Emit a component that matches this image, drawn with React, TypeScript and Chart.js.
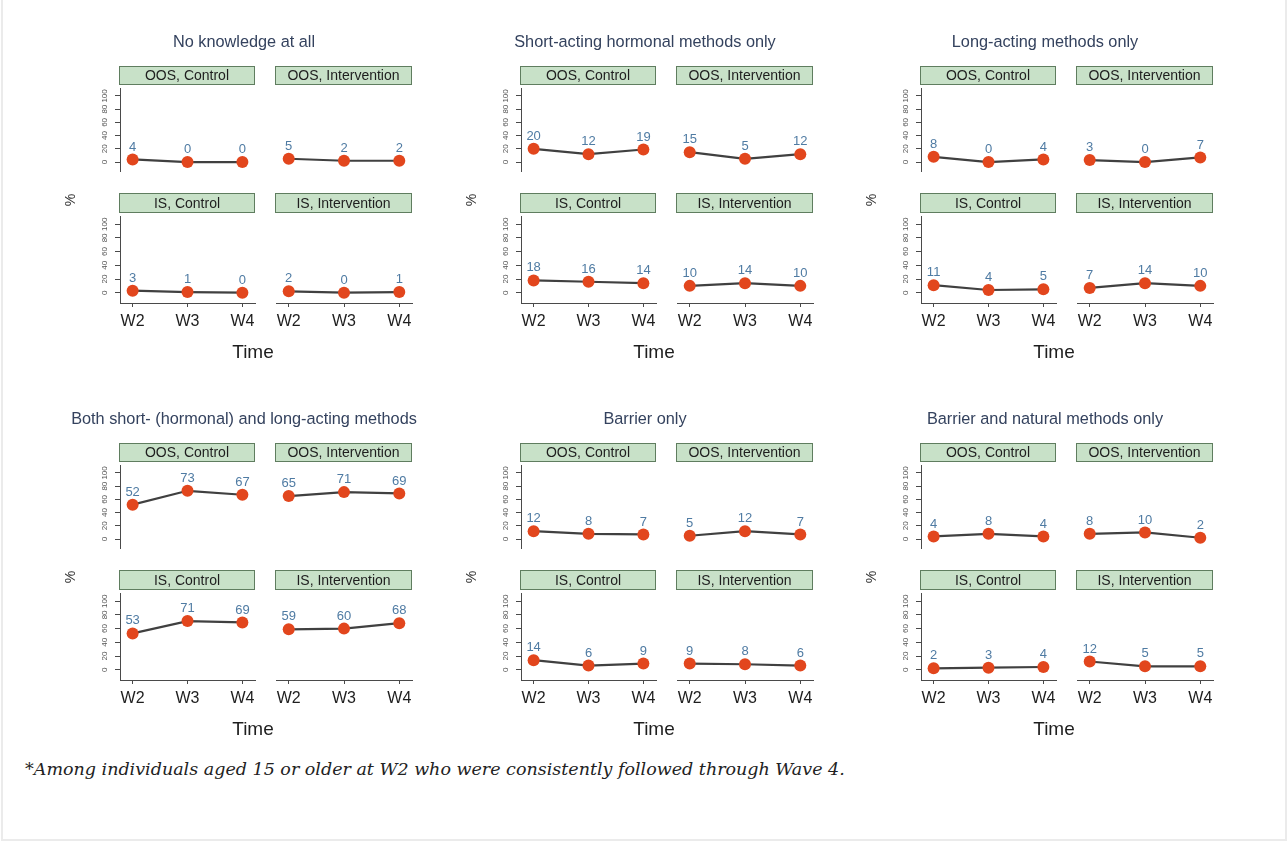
import React, { useEffect, useRef } from 'react';
import { Chart, registerables } from 'chart.js';

Chart.register(...registerables);

// ---- data -------------------------------------------------------------
const waves = ['W2', 'W3', 'W4'];
const yTickValues = [0, 20, 40, 60, 80, 100];
const facetLabels = ['OOS, Control', 'OOS, Intervention', 'IS, Control', 'IS, Intervention'];
const panelTitles = [
  'No knowledge at all',
  'Short-acting hormonal methods only',
  'Long-acting methods only',
  'Both short- (hormonal) and long-acting methods',
  'Barrier only',
  'Barrier and natural methods only',
];

// each panel: OOS Control, OOS Intervention, IS Control, IS Intervention (W2, W3, W4)
const noKnowledge = [[4, 0, 0], [5, 2, 2], [3, 1, 0], [2, 0, 1]];
const shortActing = [[20, 12, 19], [15, 5, 12], [18, 16, 14], [10, 14, 10]];
const longActing = [[8, 0, 4], [3, 0, 7], [11, 4, 5], [7, 14, 10]];
const bothMethods = [[52, 73, 67], [65, 71, 69], [53, 71, 69], [59, 60, 68]];
const barrierOnly = [[12, 8, 7], [5, 12, 7], [14, 6, 9], [9, 8, 6]];
const barrierNatural = [[4, 8, 4], [8, 10, 2], [2, 3, 4], [12, 5, 5]];

const panelValues = [noKnowledge, shortActing, longActing, bothMethods, barrierOnly, barrierNatural];

const caption = '*Among individuals aged 15 or older at W2 who were consistently followed through Wave 4.';

// ---- layout -----------------------------------------------------------
const FONT = '"Liberation Sans", Arial, Helvetica, sans-serif';
const GROUP_X = [0, 401, 801];
const GROUP_Y = [0, 377];
const PLOT_LEFT = [120, 276];
const PLOT_W = [135, 136];
const PLOT_TOP = [88, 216];
const PLOT_H = [84, 87];
const STRIP_TOP = [66, 193];
const STRIP_H = [19, 20];
const AXIS_W = 30;
const X_AXIS_H = 40;
const RIGHT_PAD = 8;

const valueLabels = {
  id: 'valueLabels',
  afterDatasetsDraw(chart: any) {
    const ctx = chart.ctx;
    const ds = chart.data.datasets[0];
    const meta = chart.getDatasetMeta(0);
    ctx.save();
    ctx.font = `13px ${FONT}`;
    ctx.fillStyle = '#4f7ba3';
    ctx.textAlign = 'center';
    ctx.textBaseline = 'middle';
    meta.data.forEach((pt: any, i: number) => {
      ctx.fillText(String(ds.data[i].y), pt.x, pt.y - 12.5);
    });
    ctx.restore();
  },
};

function Facet({ values, col, row }: { values: number[]; col: number; row: number }) {
  const ref = useRef<HTMLCanvasElement>(null);
  const showY = col === 0;
  const showX = row === 1;
  const width = AXIS_W + PLOT_W[col] + RIGHT_PAD;
  const height = PLOT_H[row] + (showX ? X_AXIS_H : 0);

  useEffect(() => {
    if (!ref.current) return;
    const chart = new Chart(ref.current, {
      type: 'line',
      data: {
        datasets: [
          {
            data: values.map((v, i) => ({ x: i, y: v })),
            borderColor: '#404040',
            borderWidth: 2.2,
            pointRadius: 6,
            pointBackgroundColor: '#e2461d',
            pointBorderColor: '#e2461d',
            pointBorderWidth: 0,
            tension: 0,
            clip: false,
          },
        ],
      },
      options: {
        responsive: false,
        maintainAspectRatio: false,
        animation: false,
        events: [],
        layout: {
          autoPadding: false,
          padding: { left: showY ? 0 : AXIS_W, right: RIGHT_PAD, top: 0, bottom: 0 },
        },
        plugins: { legend: { display: false }, tooltip: { enabled: false }, title: { display: false } },
        scales: {
          x: {
            type: 'linear',
            min: -0.23,
            max: 2.23,
            display: showX,
            afterBuildTicks: (scale: any) => {
              scale.ticks = waves.map((_, i) => ({ value: i }));
            },
            afterFit: (scale: any) => {
              scale.height = showX ? X_AXIS_H : 0;
              scale.paddingLeft = 0;
              scale.paddingRight = 0;
              scale.paddingTop = 0;
              scale.paddingBottom = 0;
            },
            grid: { display: true, drawOnChartArea: false, drawTicks: true, tickLength: 4, color: '#4a4a4a' },
            border: { display: true, color: '#4a4a4a', width: 1 },
            ticks: {
              autoSkip: false,
              maxRotation: 0,
              padding: 5,
              color: '#1e1e1e',
              font: { family: FONT, size: 16 },
              callback: (v: any) => waves[Number(v)] ?? '',
            },
          },
          y: {
            type: 'linear',
            min: -15,
            max: 112,
            display: showY,
            afterBuildTicks: (scale: any) => {
              scale.ticks = yTickValues.map((v) => ({ value: v }));
            },
            afterFit: (scale: any) => {
              scale.width = showY ? AXIS_W : 0;
              scale.paddingLeft = 0;
              scale.paddingRight = 0;
              scale.paddingTop = 0;
              scale.paddingBottom = 0;
            },
            grid: { display: true, drawOnChartArea: false, drawTicks: true, tickLength: 5, color: '#4a4a4a' },
            border: { display: true, color: '#4a4a4a', width: 1 },
            ticks: {
              autoSkip: false,
              minRotation: 90,
              maxRotation: 90,
              crossAlign: 'center',
              padding: 4,
              color: '#555',
              font: { family: FONT, size: 8 },
              callback: (v: any) => String(v),
            },
          },
        },
      },
      plugins: [valueLabels],
    } as any);
    return () => chart.destroy();
  }, [values, col, row]);

  return (
    <canvas
      ref={ref}
      width={width}
      height={height}
      style={{
        position: 'absolute',
        left: PLOT_LEFT[col] - AXIS_W,
        top: PLOT_TOP[row],
        width,
        height,
      }}
    />
  );
}

function Panel({ index }: { index: number }) {
  const gx = GROUP_X[index % 3];
  const gy = GROUP_Y[Math.floor(index / 3)];
  const values = panelValues[index];
  return (
    <div style={{ position: 'absolute', left: gx, top: gy, width: 420, height: 377, filter: 'blur(0.4px)' }}>
      <div
        style={{
          position: 'absolute',
          left: 244 - 220,
          width: 440,
          top: 32,
          textAlign: 'center',
          font: `16.3px ${FONT}`,
          color: '#34425e',
          whiteSpace: 'nowrap',
        }}
      >
        {panelTitles[index]}
      </div>
      {facetLabels.map((label, k) => {
        const col = k % 2;
        const row = Math.floor(k / 2);
        return (
          <div
            key={label}
            style={{
              position: 'absolute',
              left: PLOT_LEFT[col] - 1,
              top: STRIP_TOP[row],
              width: PLOT_W[col] + 1,
              height: STRIP_H[row],
              boxSizing: 'border-box',
              background: '#c8e1c8',
              border: '1px solid #5f7d5f',
              font: `14px ${FONT}`,
              color: '#1e1e1e',
              textAlign: 'center',
              lineHeight: `${STRIP_H[row] - 2}px`,
              whiteSpace: 'nowrap',
            }}
          >
            {label}
          </div>
        );
      })}
      {values.map((v, k) => (
        <Facet key={k} values={v} col={k % 2} row={Math.floor(k / 2)} />
      ))}
      <div
        style={{
          position: 'absolute',
          left: 72 - 20,
          top: 200 - 10,
          width: 40,
          height: 20,
          lineHeight: '20px',
          textAlign: 'center',
          transform: 'rotate(-90deg)',
          font: `14px ${FONT}`,
          color: '#333',
        }}
      >
        %
      </div>
      <div
        style={{
          position: 'absolute',
          left: 253 - 50,
          width: 100,
          top: 341,
          textAlign: 'center',
          font: `19px ${FONT}`,
          color: '#1e1e1e',
        }}
      >
        Time
      </div>
    </div>
  );
}

export default function App() {
  return (
    <div
      style={{
        position: 'absolute',
        left: 0,
        top: 0,
        width: 1287,
        height: 841,
        background: '#fff',
        overflow: 'hidden',
      }}
    >
      <div
        style={{
          position: 'absolute',
          left: 1,
          top: -4,
          width: 1286,
          height: 845,
          boxSizing: 'border-box',
          border: '2px solid #ebebeb',
        }}
      />
      {panelTitles.map((_, i) => (
        <Panel key={i} index={i} />
      ))}
      <div
        style={{
          position: 'absolute',
          left: 25,
          top: 759,
          font: `italic 17.5px "DejaVu Serif", Georgia, serif`,
          color: '#222',
          whiteSpace: 'nowrap',
        }}
      >
        {caption}
      </div>
    </div>
  );
}
